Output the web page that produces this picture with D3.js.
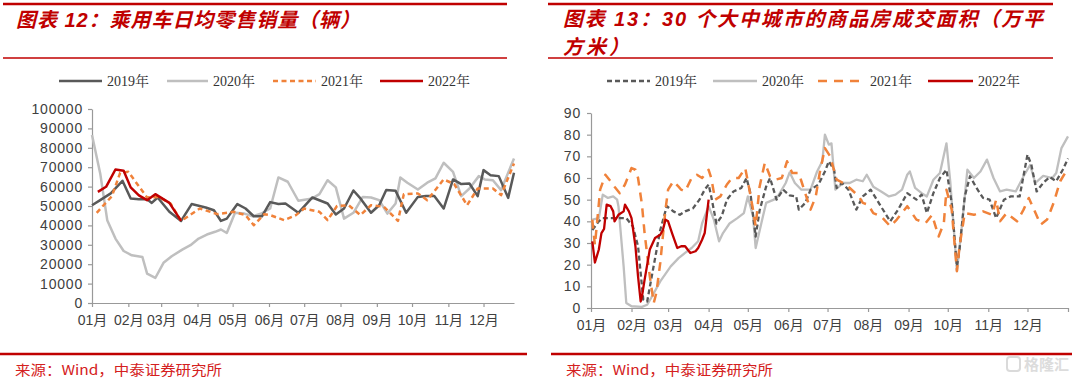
<!DOCTYPE html>
<html><head><meta charset="utf-8">
<script src="https://cdn.jsdelivr.net/npm/d3@7"></script>
<style>
html,body{margin:0;padding:0;background:#fff;}
svg{display:block;}
</style></head>
<body>
<svg id="c" width="1080" height="381"></svg>
<script>
// ---------- DATA ----------
const seriesNames = ["2019年","2020年","2021年","2022年"];
const monthTicks = ["01月","02月","03月","04月","05月","06月","07月","08月","09月","10月","11月","12月"];
const carYTicks = [0,10000,20000,30000,40000,50000,60000,70000,80000,90000,100000];
const houseYTicks = [0,10,20,30,40,50,60,70,80,90];

// Chart 12: daily retail sales of passenger cars (day of year, value)
const carDays2019 = [0,7,16,26,33,40,47,51,56,66,76,85,97,104,110,115,124,131,138,145,152,159,165,176,188,201,208,215,223,229,238,245,251,259,268,278,285,292,300,308,315,322,329,334,340,347,355,360];
const car2019 = [50400,53000,56500,63000,53900,53500,53500,51600,54400,47000,42300,51000,49200,47800,42300,43500,51000,48700,44700,44700,52000,51000,51300,46500,54400,51300,45600,48700,58000,53900,46500,50400,58200,57800,46500,54700,55100,55100,48700,63700,61300,61600,55100,68500,65900,65400,54200,67100];
const carDays2020 = [0,7,13,20,27,34,43,47,54,61,68,77,84,91,98,105,110,115,122,130,137,144,152,159,167,176,188,194,201,208,215,223,231,238,245,252,259,263,269,278,286,293,300,308,315,322,330,335,342,349,360];
const car2020 = [86600,66800,42700,33200,26800,24600,23700,15100,12900,20700,24100,27500,29800,33200,35300,36700,37900,36100,46500,46100,44700,46000,48700,64700,62500,52700,53900,56100,63300,59600,43500,46500,54700,54400,53000,46100,51300,64700,62000,58500,62000,64200,72300,67600,55100,59000,65400,63700,63300,58200,74500];
const carDays2021 = [4,17,24,31,47,57,67,76,92,107,121,131,138,147,152,164,174,181,194,201,209,219,229,238,249,261,266,278,286,300,309,320,329,342,349,360];
const car2021 = [46500,55100,67100,67600,54400,54700,51300,42300,48700,45800,47000,45300,40100,45800,45300,42700,45300,48700,47000,42700,50000,50400,45300,50400,49600,42300,56100,56500,53000,63700,61300,50400,59000,59000,55600,71900];
const carDays2022 = [5,12,20,27,33,40,47,54,66,76];
const car2022 = [57300,59900,68800,68200,59600,55500,53000,56100,51600,42300];

// Chart 13: transaction area of commodity housing in 30 cities (day of year, value)
const houseDays2019 = [1,6,9,16,22,27,32,36,40,43,46,53,58,63,68,72,78,83,87,90,92,96,100,104,109,115,119,122,126,129,134,137,142,147,152,157,159,164,168,174,179,182,186,188,192,197,203,208,214,221,229,235,242,249,253,257,262,267,272,276,280,282,286,290,295,300,305,310,316,321,328,334,337,341,346,351,356,361,365];
const house2019 = [36,40,41.5,41.5,41.5,41.5,37.7,28.5,3.8,3,13,36,47,44.6,43,44.6,46,50,54.6,57,51.5,39,42.3,50,53.8,55.4,60,53,33,45,56,60,50,54.6,52,51.5,45.4,48.5,54.6,57,63,67.7,63.8,55.4,57.7,54.6,45.4,51.5,54.6,47.7,40,45.4,53,50,52.3,43.8,53,60,63.8,48.5,19.2,27,51.5,60.8,55.4,50.8,50,41.5,50,51.5,51.5,70.8,66,53.8,57.7,60.5,58.5,63.8,69];
const houseDays2020 = [1,6,9,13,17,20,21,25,27,31,39,43,46,53,61,67,72,77,82,85,90,94,98,101,106,112,117,120,124,126,131,134,140,143,149,152,156,161,168,173,177,179,182,184,187,193,198,203,208,211,216,222,228,233,238,242,244,248,253,257,262,267,272,275,280,284,288,293,298,303,308,313,318,325,331,336,340,346,353,356,360,365];
const house2020 = [40.8,41.5,52.3,50.8,51.5,50,47,19,2.3,0.8,0.5,1.5,4.6,12.3,19.2,23,25.4,27.7,30.8,39,47,40.8,30.8,34.6,39,41.5,43.8,51.5,42.3,27.7,40.8,48.5,50,51.5,57.7,62.6,57.7,54.6,54.6,63,67.7,80,75.4,76,54.6,57.7,57.7,59.2,58.5,61.5,56,53.8,51.5,52.3,54.6,61.5,63,55.4,53,51.5,59.2,62.3,76,57.7,17,39,63.8,60,63,68.5,60,53.8,54.6,53.8,60.8,66,57.7,61,60,62.3,73.8,79.2];
const houseDays2021 = [1,3,7,11,16,18,22,26,31,34,36,39,41,45,48,50,53,57,59,63,67,69,72,77,81,85,90,92,95,99,104,108,113,118,120,124,126,129,133,137,141,146,150,154,159,161,168,172,175,179,183,188,193,198,205,208,212,216,222,229,234,242,249,256,261,266,270,272,276,280,282,286,293,300,307,310,313,318,326,331,335,339,344,349,354,359,365];
const house2021 = [40.8,29,54.6,61.5,57.7,56,53,57,64.6,63.8,60,47.7,34.6,14.6,2.3,7,20.8,45.4,54.6,58.5,56,54.6,53.8,60,61.5,60,63.8,60,50,51.5,57,60,60,64.6,58.5,45.4,37.7,56,67,60.8,59.2,60,67.7,62.3,62.3,58.5,45.4,51.5,62.3,73.8,70,59.2,57.7,55.4,51.5,48.5,47.7,43.8,42.3,37.7,40.8,47,40.8,39.2,43,33,39.2,54.6,45.4,17,28.5,43.8,43,44.6,43,50,40,43.8,40,45.4,50.8,45.4,38.5,40.8,48.5,58.5,64.6];
const houseDays2022 = [1,3,6,8,10,12,15,17,18,21,25,26,29,31,34,36,38,39,41,45,49,53,55,57,59,62,66,69,72,76,80,82,85,87,90];
const house2022 = [30.8,21,27,34.6,36.5,47.7,47,44.6,40,43,44.6,47.7,44.6,41.5,28.5,14.6,3,5.4,13,27,32.3,33.8,36,40.8,40,34.6,27.7,28.5,28.5,25.4,26.2,27.7,31.5,34.6,50];

// ---------- DRAW ----------
const svg = d3.select("#c");
const RED = "#C00000";
const COLORS = ["#595959","#BFBFBF","#F0823A","#C00000"];
const base = new Date(2021,0,1);
const toDate = d => d3.timeDay.offset(base, d);
const zip = (days, vals) => days.map((d,i)=>({d:toDate(d), v:vals[i]}));

// Title blocks
function titleBlock(x0, x1, lines){
  svg.append("line").attr("x1",x0).attr("x2",x1).attr("y1",4).attr("y2",4)
    .attr("stroke",RED).attr("stroke-width",2.5);
  svg.append("line").attr("x1",x0).attr("x2",x1).attr("y1",58).attr("y2",58)
    .attr("stroke",RED).attr("stroke-width",1.5);
  lines.forEach((t,i)=>{
    const tx = svg.append("text").attr("x",t.x).attr("y",t.y).text(t.s)
      .attr("fill",RED).attr("font-size",20).attr("font-weight","bold").attr("font-style","italic")
      .attr("font-family","'Liberation Sans','Noto Sans CJK SC',sans-serif");
    if (t.len) tx.attr("textLength",t.len).attr("lengthAdjust","spacing");
  });
}
titleBlock(3, 507, [{x:16,y:27,s:"图表 12：乘用车日均零售销量（辆）",len:344}]);
titleBlock(548, 1053, [{x:563,y:26,s:"图表 13：30 个大中城市的商品房成交面积（万平",len:480},{x:563,y:54,s:"方米）",len:66}]);

// Source blocks
function sourceBlock(x0, x1, tx){
  svg.append("line").attr("x1",x0).attr("x2",x1).attr("y1",354).attr("y2",354)
    .attr("stroke",RED).attr("stroke-width",2.5);
  svg.append("text").attr("x",tx).attr("y",375).text("来源：Wind，中泰证券研究所")
    .attr("fill","#D42020").attr("font-size",13.5)
    .attr("font-family","'Noto Sans CJK SC',sans-serif")
    .attr("textLength",207).attr("lengthAdjust","spacingAndGlyphs");
}
sourceBlock(0, 527, 15);
sourceBlock(551, 1072, 566);

// watermark
const wm = svg.append("g").attr("opacity",0.9);
wm.append("rect").attr("x",1007).attr("y",357).attr("width",13).attr("height",14).attr("rx",3)
  .attr("fill","none").attr("stroke","#d6d6d6").attr("stroke-width",2);
wm.append("text").attr("x",1024).attr("y",370).text("格隆汇").attr("fill","#d9d9d9")
  .attr("font-size",15).attr("font-family","'Noto Sans CJK SC',sans-serif").attr("font-weight","bold");

// Legend
function legend(items, y){
  items.forEach(it=>{
    svg.append("line").attr("x1",it.x1).attr("x2",it.x2).attr("y1",y).attr("y2",y)
      .attr("stroke",it.color).attr("stroke-width",it.w).attr("stroke-dasharray",it.dash||null);
    svg.append("text").attr("x",it.x2+5).attr("y",y+5).text(it.name)
      .attr("font-size",14).attr("fill","#333")
      .attr("font-family","'Liberation Serif','Noto Serif CJK SC','Noto Sans CJK SC',serif");
  });
}
legend([
  {x1:59,x2:102,color:COLORS[0],w:2.5,name:seriesNames[0]},
  {x1:167,x2:208,color:COLORS[1],w:2.5,name:seriesNames[1]},
  {x1:273,x2:316,color:COLORS[2],w:2.5,dash:"5,3.5",name:seriesNames[2]},
  {x1:380,x2:423,color:COLORS[3],w:2.5,name:seriesNames[3]}
], 81);
legend([
  {x1:607,x2:650,color:COLORS[0],w:2.5,dash:"5,3",name:seriesNames[0]},
  {x1:713,x2:757,color:COLORS[1],w:2.5,name:seriesNames[1]},
  {x1:818,x2:865,color:COLORS[2],w:2.5,dash:"9,7",name:seriesNames[2]},
  {x1:928,x2:973,color:COLORS[3],w:2.5,name:seriesNames[3]}
], 81);

function styleAxis(g, ls){
  g.selectAll(".domain").attr("stroke","#999").attr("stroke-width",1.2);
  g.selectAll(".tick line").attr("stroke","#999").attr("stroke-width",1.2);
  g.selectAll("text").attr("fill","#404040").attr("font-size",14)
    .attr("letter-spacing",ls||0)
    .attr("font-family","'Liberation Sans','Noto Sans CJK SC',sans-serif");
}
const monthDates = d3.range(12).map(m=>new Date(2021,m,1));
const fmtMonth = d => { const i = monthDates.findIndex(m=>+m===+d); return i>=0 ? monthTicks[i] : ""; };

// ---------- Chart 12 ----------
const xL = d3.scaleTime().domain([base, new Date(2021,11,27)]).range([92,514]);
const yL = d3.scaleLinear().domain([0,100000]).range([303,109]);
const gxL = svg.append("g").attr("transform","translate(0,303)")
  .call(d3.axisBottom(xL).tickValues(monthDates).tickFormat(fmtMonth).tickSize(4).tickSizeOuter(0).tickPadding(8));
styleAxis(gxL);
const gyL = svg.append("g").attr("transform","translate(92,0)")
  .call(d3.axisLeft(yL).tickValues(carYTicks).tickFormat(d3.format("d")).tickSize(4).tickSizeOuter(0).tickPadding(5));
styleAxis(gyL, 0.8);

const lineL = d3.line().x(p=>xL(p.d)).y(p=>yL(p.v));
const carSeries = [
  {data:zip(carDays2020,car2020), c:COLORS[1], w:2.5},
  {data:zip(carDays2019,car2019), c:COLORS[0], w:2.5},
  {data:zip(carDays2021,car2021), c:COLORS[2], w:2.5, dash:"5,3.5"},
  {data:zip(carDays2022,car2022), c:COLORS[3], w:2.5}
];
carSeries.forEach(s=>{
  svg.append("path").datum(s.data).attr("d",lineL).attr("fill","none")
    .attr("stroke",s.c).attr("stroke-width",s.w).attr("stroke-dasharray",s.dash||null)
    .attr("stroke-linejoin","round");
});

// ---------- Chart 13 ----------
const xR = d3.scaleTime().domain([base, new Date(2022,0,1)]).range([591,1068]);
const yR = d3.scaleLinear().domain([0,90]).range([308,113]);
const gxR = svg.append("g").attr("transform","translate(0,308)")
  .call(d3.axisBottom(xR).tickValues(monthDates.concat([new Date(2022,0,1)])).tickFormat(fmtMonth).tickSize(4).tickSizeOuter(0).tickPadding(8));
styleAxis(gxR);
const gyR = svg.append("g").attr("transform","translate(591,0)")
  .call(d3.axisLeft(yR).tickValues(houseYTicks).tickFormat(d3.format("d")).tickSize(4).tickSizeOuter(0).tickPadding(6));
styleAxis(gyR, 0.8);

const lineR = d3.line().x(p=>xR(p.d)).y(p=>yR(p.v));
const houseSeries = [
  {data:zip(houseDays2020,house2020), c:COLORS[1], w:2.3},
  {data:zip(houseDays2019,house2019), c:COLORS[0], w:2.3, dash:"5,3"},
  {data:zip(houseDays2021,house2021), c:COLORS[2], w:2.5, dash:"9,7"},
  {data:zip(houseDays2022,house2022), c:COLORS[3], w:2.3}
];
houseSeries.forEach(s=>{
  svg.append("path").datum(s.data).attr("d",lineR).attr("fill","none")
    .attr("stroke",s.c).attr("stroke-width",s.w).attr("stroke-dasharray",s.dash||null)
    .attr("stroke-linejoin","round");
});
</script>
</body></html>
